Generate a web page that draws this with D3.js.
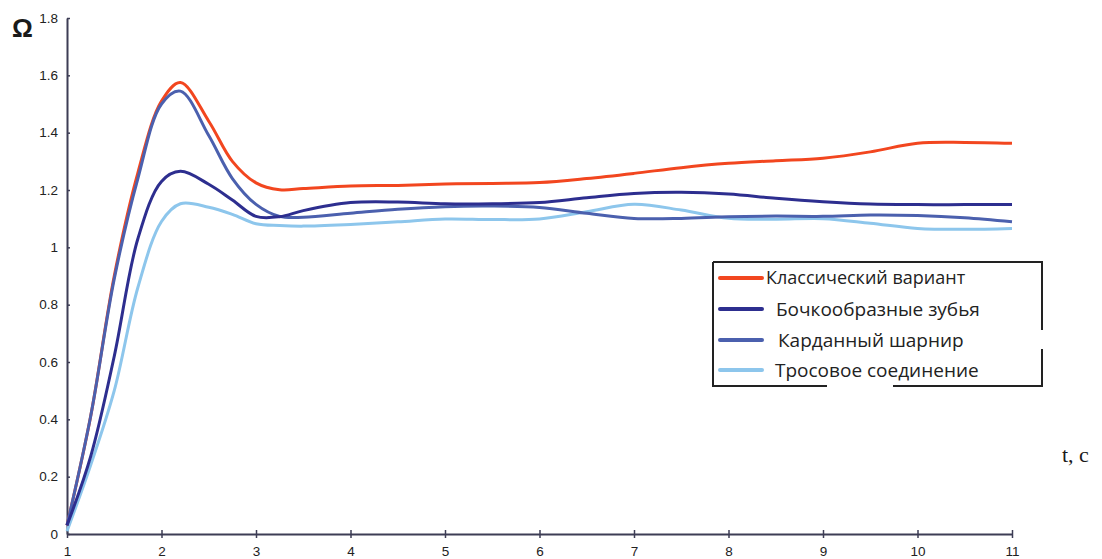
<!DOCTYPE html>
<html>
<head>
<meta charset="utf-8">
<script src="https://cdn.jsdelivr.net/npm/d3@7"></script>
<style>
  body { margin: 0; background: #fff; }
  svg { display: block; }
</style>
</head>
<body>
<svg id="chart" width="1102" height="559"></svg>
<script>
// time points (t, c)
const tValues = [1, 1.25, 1.5, 1.75, 2, 2.2, 2.5, 2.75, 3, 3.25, 3.5, 4, 4.5, 5, 5.5, 6, 6.5, 7, 7.5, 8, 8.5, 9, 9.5, 10, 10.5, 11];

// series values (Omega)
const classic  = [0.03, 0.41, 0.90, 1.26, 1.51, 1.575, 1.44, 1.30, 1.225, 1.201, 1.205, 1.214, 1.216, 1.221, 1.223, 1.226, 1.240, 1.258, 1.278, 1.293, 1.302, 1.311, 1.333, 1.363, 1.366, 1.363];
const barrel   = [0.03, 0.27, 0.62, 1.03, 1.23, 1.265, 1.22, 1.165, 1.108, 1.107, 1.128, 1.156, 1.158, 1.152, 1.152, 1.156, 1.173, 1.188, 1.192, 1.186, 1.171, 1.159, 1.151, 1.149, 1.149, 1.149];
const cardan   = [0.03, 0.41, 0.89, 1.24, 1.50, 1.545, 1.39, 1.24, 1.150, 1.108, 1.105, 1.119, 1.133, 1.142, 1.144, 1.139, 1.119, 1.101, 1.101, 1.107, 1.109, 1.108, 1.113, 1.111, 1.103, 1.089];
const cable    = [0.01, 0.24, 0.50, 0.86, 1.09, 1.152, 1.140, 1.115, 1.082, 1.076, 1.074, 1.080, 1.089, 1.099, 1.097, 1.099, 1.124, 1.150, 1.130, 1.101, 1.098, 1.100, 1.084, 1.066, 1.063, 1.066];

const seriesNames = ["Классический вариант", "Бочкообразные зубья", "Карданный шарнир", "Тросовое соединение"];
const seriesColors = ["#f2461f", "#2d2e8f", "#4b60ae", "#8dc6ec"];
const seriesData = [classic, barrel, cardan, cable];

const xTicks = [1, 2, 3, 4, 5, 6, 7, 8, 9, 10, 11];
const yTicks = [0, 0.2, 0.4, 0.6, 0.8, 1, 1.2, 1.4, 1.6, 1.8];

const svg = d3.select("#chart");

const x = d3.scaleLinear().domain([1, 11]).range([67, 1012]);
const y = d3.scaleLinear().domain([0, 1.8]).range([534, 18]);

const axisColor = "#3d3d55";

// axes
const xAxis = svg.append("g")
    .attr("transform", "translate(0,534)")
    .call(d3.axisBottom(x).tickValues(xTicks).tickSizeInner(4).tickSizeOuter(0).tickFormat(d3.format("d")));
xAxis.selectAll(".tick line").attr("y1", -4);

const yAxis = svg.append("g")
    .attr("transform", "translate(67,0)")
    .call(d3.axisLeft(y).tickValues(yTicks).tickSizeInner(4).tickSizeOuter(0).tickFormat(d => String(+d.toFixed(1))));
yAxis.selectAll(".tick line").attr("x2", 3);

[xAxis, yAxis].forEach(g => {
    g.select(".domain").attr("stroke", axisColor).attr("stroke-width", 2);
    g.selectAll(".tick line").attr("stroke", axisColor).attr("stroke-width", 1.5);
    g.selectAll(".tick text")
        .attr("fill", "#222")
        .style("font-family", "'Liberation Sans', Arial, sans-serif")
        .style("font-size", "13.5px");
});
xAxis.selectAll(".tick text").attr("y", 12).attr("dy", "0.71em");
yAxis.selectAll(".tick text").attr("x", -9);

// lines
const line = d3.line()
    .x((d, i) => x(tValues[i]))
    .y(d => y(d))
    .curve(d3.curveCatmullRom.alpha(0.5));

// light ones first so the darker ones sit on top
const drawOrder = [3, 0, 2, 1];
drawOrder.forEach(k => {
    svg.append("path")
        .datum(seriesData[k])
        .attr("fill", "none")
        .attr("stroke", seriesColors[k])
        .attr("stroke-width", 3)
        .attr("stroke-linejoin", "round")
        .attr("d", line);
});

// axis titles
svg.append("text")
    .attr("x", 12).attr("y", 37)
    .style("font-family", "'Liberation Sans', Arial, sans-serif")
    .style("font-size", "26px")
    .style("font-weight", "bold")
    .attr("fill", "#1a1a1a")
    .text("Ω");

svg.append("text")
    .attr("x", 1062).attr("y", 462)
    .style("font-family", "'Liberation Serif', 'Times New Roman', serif")
    .style("font-size", "22px")
    .attr("fill", "#1a1a1a")
    .text("t, c");

// legend
const legend = svg.append("g");
legend.append("rect")
    .attr("x", 713).attr("y", 262).attr("width", 329).attr("height", 124)
    .attr("fill", "#fff");
// border, with the small breaks seen in the picture
legend.append("path")
    .attr("d", "M713,262 L1042,262 L1042,330 M1042,349 L1042,386 L893,386 M827,386 L713,386 L713,262")
    .attr("fill", "none")
    .attr("stroke", "#222")
    .attr("stroke-width", 2);

const legendY = [278, 309, 340, 370];
const legendTextX = [766, 776, 778, 775];
const legendFont = [18, 19, 19, 19];
seriesNames.forEach((name, i) => {
    legend.append("line")
        .attr("x1", 720).attr("x2", 762)
        .attr("y1", legendY[i]).attr("y2", legendY[i])
        .attr("stroke", seriesColors[i])
        .attr("stroke-width", 4)
        .attr("stroke-linecap", "round");
    legend.append("text")
        .attr("x", legendTextX[i]).attr("y", legendY[i])
        .attr("dy", "0.35em")
        .style("font-family", "'Open Sans', 'Liberation Sans', sans-serif")
        .style("font-size", legendFont[i] + "px")
        .attr("fill", "#222")
        .text(name);
});
</script>
</body>
</html>
